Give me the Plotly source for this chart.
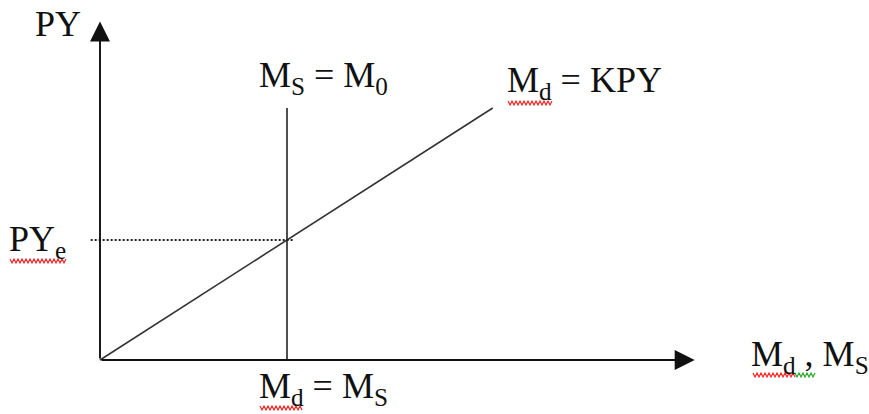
import numpy as np
import plotly.graph_objects as go

# ---- data (model units) ----
M0 = 1.0            # money supply
PYe = 1.0           # equilibrium nominal income
K = 1.0             # Md = K * PY
md_end = [0.0, 2.10]            # money demand line, Md values
ms_top = 2.10                   # top of vertical Ms line (PY)
x_axis_end = 3.18
y_axis_end = 2.82
dotted_x = [-0.05, 1.04]

labels = ["PY", "M<sub>S</sub> = M<sub>0</sub>", "M<sub>d</sub> = KPY",
          "PY<sub>e</sub>", "M<sub>d</sub> , M<sub>S</sub>", "M<sub>d</sub> = M<sub>S</sub>"]

W, H = 869, 414
# pixel mapping used for layout ranges / decorations
OX, OY, SX, SY = 100, 360, 187, 120
def px2x(p): return (p - OX) / SX
def px2y(p): return (OY - p) / SY

FONT = "Liberation Serif"
fig = go.Figure()

# money demand line
md_x = np.array(md_end)
md_y = md_x / K
fig.add_trace(go.Scatter(x=md_x, y=md_y, mode="lines",
                         line=dict(color="#333333", width=1.6), hoverinfo="skip"))
# money supply vertical line
fig.add_trace(go.Scatter(x=[M0, M0], y=[0, ms_top], mode="lines",
                         line=dict(color="#222222", width=1.6), hoverinfo="skip"))
# dotted PYe line
fig.add_trace(go.Scatter(x=dotted_x, y=[PYe, PYe], mode="lines",
                         line=dict(color="#222222", width=2, dash="2px,2px"), hoverinfo="skip"))

ann = []
# axes with arrowheads
for (x, y) in [(0, y_axis_end), (x_axis_end, 0)]:
    ann.append(dict(x=x, y=y, ax=0, ay=0, xref="x", yref="y", axref="x", ayref="y",
                    text="", showarrow=True, arrowhead=2, arrowsize=2.1,
                    arrowwidth=1.9, arrowcolor="#111111", standoff=0, startstandoff=0))

# text labels: (label, left px, center px)
pos = [(33, 24), (257, 77), (505, 82), (7, 241), (749, 356), (257, 388)]
for lab, (lx, cy) in zip(labels, pos):
    ann.append(dict(x=px2x(lx), y=px2y(cy), xref="x", yref="y", text=lab,
                    showarrow=False, xanchor="left", yanchor="middle",
                    font=dict(family=FONT, size=36, color="#111111")))

# spell-check squiggles (decorative)
def squiggle(x0, x1, yc, amp=2.0, per=4.0):
    n = int((x1 - x0) / (per / 2))
    pts = []
    for i in range(n + 1):
        xp = x0 + i * per / 2
        yp = yc + (amp if i % 2 else -amp)
        pts.append(f"{px2x(xp):.5f},{px2y(yp):.5f}")
    return "M" + " L".join(pts)

shapes = []
for (x0, x1, yc, col) in [(508, 552, 103, "#ff2020"), (10, 66, 261, "#ff2020"),
                          (753, 795, 375, "#ff2020"), (795, 815, 375, "#22aa22"),
                          (260, 302, 408, "#ff2020")]:
    shapes.append(dict(type="path", path=squiggle(x0, x1, yc), xref="x", yref="y",
                       line=dict(color=col, width=1.2)))

fig.update_layout(
    width=W, height=H, margin=dict(l=0, r=0, t=0, b=0),
    paper_bgcolor="white", plot_bgcolor="white", showlegend=False,
    xaxis=dict(range=[px2x(0), px2x(W)], visible=False, fixedrange=True),
    yaxis=dict(range=[px2y(H), px2y(0)], visible=False, fixedrange=True),
    annotations=ann, shapes=shapes,
)
fig.write_html("out.html", config={"displayModeBar": False},
               post_script="document.body.style.margin='0';document.body.style.overflow='hidden';")
